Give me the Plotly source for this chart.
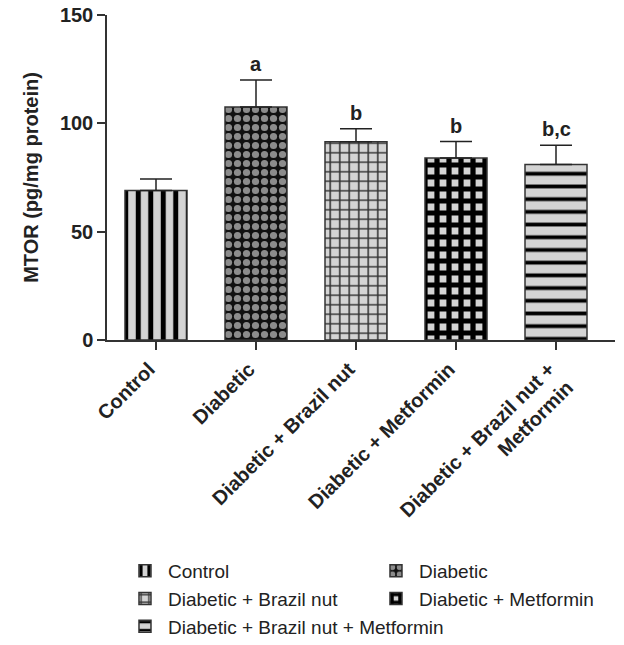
import plotly.graph_objects as go

categories = ["Control", "Diabetic", "Diabetic + Brazil nut", "Diabetic + Metformin",
              "Diabetic + Brazil nut + Metformin"]
tick_labels = ["Control", "Diabetic", "Diabetic + Brazil nut", "Diabetic + Metformin",
               "Diabetic + Brazil nut +<br>Metformin"]
means = [69, 107.5, 91.5, 84, 81]
sds = [5.3, 12.5, 6, 7.6, 8.9]
letters = ["", "a", "b", "b", "b,c"]
y_ticks = [0, 50, 100, 150]

patterns = [
    dict(shape="|", fgcolor="#000000", bgcolor="#d4d4d4", size=12.5, solidity=0.4, fgopacity=1),
    dict(shape=".", fgcolor="#8c8c8c", bgcolor="#111111", size=9, solidity=0.5, fgopacity=1),
    dict(shape="+", fgcolor="#333333", bgcolor="#d4d4d4", size=9.5, solidity=0.3, fgopacity=1),
    dict(shape="+", fgcolor="#000000", bgcolor="#d4d4d4", size=12, solidity=0.68, fgopacity=1),
    dict(shape="-", fgcolor="#000000", bgcolor="#d4d4d4", size=12.7, solidity=0.3, fgopacity=1),
]

FONT = "Liberation Sans, Arial, sans-serif"

fig = go.Figure()
for i, cat in enumerate(categories):
    fig.add_trace(go.Bar(
        x=[i], y=[means[i]], name=cat, width=0.62,
        marker=dict(color="#d4d4d4", pattern=patterns[i],
                    line=dict(color="#333333", width=1.5)),
        error_y=dict(type="data", symmetric=False, array=[sds[i]], arrayminus=[0],
                     width=16, thickness=1.5, color="#222222"),
    ))
    if letters[i]:
        fig.add_annotation(x=i, y=means[i] + sds[i], text=letters[i], showarrow=False,
                           yanchor="bottom", yshift=3,
                           font=dict(family=FONT, size=20, weight="bold", color="#222"))

fig.update_layout(
    width=624, height=645,
    margin=dict(l=107, r=9, t=15, b=305, autoexpand=False),
    paper_bgcolor="white", plot_bgcolor="white",
    barmode="overlay",
    font=dict(family=FONT, color="#222"),
    showlegend=True,
    legend=dict(orientation="h", x=0.0295, xanchor="left", y=-0.652, yanchor="top",
                entrywidth=200, entrywidthmode="pixels", traceorder="normal",
                font=dict(family=FONT, size=19, color="#222"), itemwidth=36),
    xaxis=dict(range=[-0.49, 4.59], tickmode="array", tickvals=list(range(len(categories))),
               ticktext=tick_labels, tickangle=-45, showline=True, linecolor="#333",
               linewidth=1.5, ticks="outside", ticklen=8, tickwidth=1.5, tickcolor="#333",
               showgrid=False, zeroline=False, automargin=False, ticklabelshift=-7,
               tickfont=dict(family=FONT, size=20, weight="bold", color="#222")),
    yaxis=dict(range=[0, 150], tickvals=y_ticks, showline=True, linecolor="#333",
               linewidth=1.5, ticks="outside", ticklen=8, tickwidth=1.5, tickcolor="#333",
               showgrid=False, zeroline=False, automargin=False, ticklabeloverflow="allow",
               tickfont=dict(family=FONT, size=20, weight="bold", color="#222"),
               title=dict(text="MTOR (pg/mg protein)", standoff=16,
                          font=dict(family=FONT, size=20, weight="bold", color="#222"))),
)

# remove the default 8px page margin so the figure fills the window exactly
fig.write_html("out.html", config={"displayModeBar": False},
               post_script="document.body.style.margin='0px';")
